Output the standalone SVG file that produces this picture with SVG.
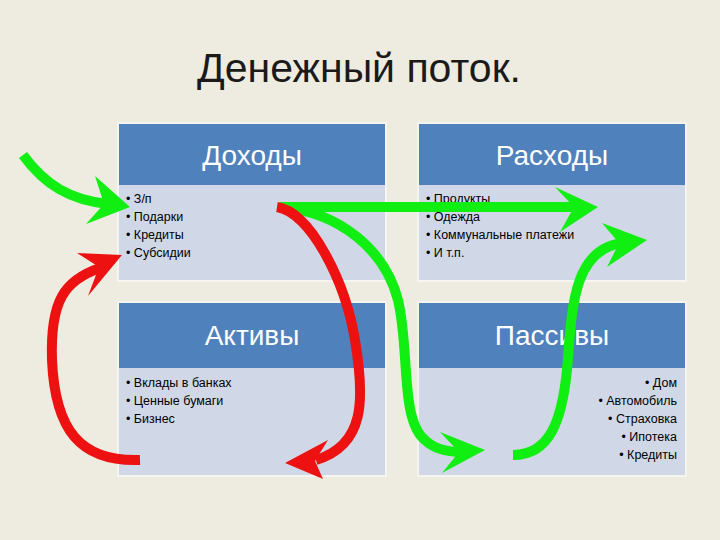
<svg xmlns="http://www.w3.org/2000/svg" width="720" height="540" viewBox="0 0 720 540">
<style>
.bg{fill:#EEECE1}
.hd{fill:#4F81BD}
.bd{fill:#D0D8E8}
.frame{fill:none;stroke:#F8F8F4;stroke-width:1.5}
.title{font-family:"Liberation Sans",Arial,sans-serif;font-size:41px;fill:#1a1a1a;text-anchor:middle}
.ht{font-family:"Liberation Sans",Arial,sans-serif;font-size:28px;fill:#FFFFFF;text-anchor:middle}
.it{font-family:"Liberation Sans",Arial,sans-serif;font-size:12.5px;fill:#000000}
.r{text-anchor:end}
.g{fill:none;stroke:#11EE11;stroke-width:10}
.rd{fill:none;stroke:#EE1111;stroke-width:10}
.gh{fill:#11EE11}
.rh{fill:#EE1111}
</style>
<rect class="bg" x="0" y="0" width="720" height="540"/>
<text class="title" x="359" y="82">Денежный поток.</text>

<g id="dohody">
<rect class="hd" x="119" y="124" width="266" height="61"/>
<rect class="bd" x="119" y="185" width="266" height="95"/>
<rect class="frame" x="118" y="123" width="268" height="158"/>
<text class="ht" x="252" y="165">Доходы</text>
<text class="it" x="126" y="203">• З/п</text>
<text class="it" x="126" y="221">• Подарки</text>
<text class="it" x="126" y="239">• Кредиты</text>
<text class="it" x="126" y="257">• Субсидии</text>
</g>

<g id="rashody">
<rect class="hd" x="419" y="124" width="266" height="61"/>
<rect class="bd" x="419" y="185" width="266" height="95"/>
<rect class="frame" x="418" y="123" width="268" height="158"/>
<text class="ht" x="552" y="165">Расходы</text>
<text class="it" x="426" y="203">• Продукты</text>
<text class="it" x="426" y="221">• Одежда</text>
<text class="it" x="426" y="239">• Коммунальные платежи</text>
<text class="it" x="426" y="257">• И т.п.</text>
</g>

<g id="aktivy">
<rect class="hd" x="119" y="303" width="266" height="65"/>
<rect class="bd" x="119" y="368" width="266" height="107"/>
<rect class="frame" x="118" y="302" width="268" height="174"/>
<text class="ht" x="252" y="345">Активы</text>
<text class="it" x="126" y="387">• Вклады в банках</text>
<text class="it" x="126" y="405">• Ценные бумаги</text>
<text class="it" x="126" y="423">• Бизнес</text>
</g>

<g id="passivy">
<rect class="hd" x="419" y="303" width="266" height="65"/>
<rect class="bd" x="419" y="368" width="266" height="107"/>
<rect class="frame" x="418" y="302" width="268" height="174"/>
<text class="ht" x="552" y="345">Пассивы</text>
<text class="it r" x="677" y="387">• Дом</text>
<text class="it r" x="677" y="405">• Автомобиль</text>
<text class="it r" x="677" y="423">• Страховка</text>
<text class="it r" x="677" y="441">• Ипотека</text>
<text class="it r" x="677" y="459">• Кредиты</text>
</g>

<g id="connectors">
<path class="g" d="M23,155 C45,185 70,200 108,204"/>
<polygon class="gh" points="130,207 95,176 104,204 86,224"/>

<path class="g" d="M280,207 L578,207"/>
<polygon class="gh" points="598,207 555,187 574,207 560,232"/>

<path class="g" d="M280,207 C340,212 385,250 398,300 C410,350 400,420 425,440 C435,450 450,452 462,452"/>
<polygon class="gh" points="485,450 440,432 459,452 442,473"/>

<path class="g" d="M513,455 C550,455 562,420 567,370 C572,310 572,250 622,243"/>
<polygon class="gh" points="647,240 602,223 619,243 607,267"/>

<path class="rd" d="M140,460 C80,462 55,430 52,360 C50,300 65,280 100,268"/>
<polygon class="rh" points="122,255 77,253 99,267 88,296"/>

<path class="rd" d="M277,207 C310,212 345,280 355,340 C365,400 365,445 316,460"/>
<polygon class="rh" points="285,463 328,440 315,461 323,479"/>
</g>
</svg>
